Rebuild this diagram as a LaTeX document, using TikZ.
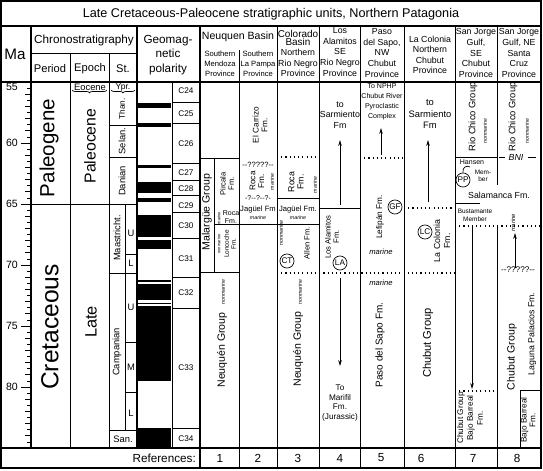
\documentclass[tikz,border=0pt]{standalone}
\usepackage{fontspec}
\setmainfont{Liberation Sans}
\usetikzlibrary{decorations.pathreplacing,arrows.meta}

\begin{document}
\begin{tikzpicture}[x=0.03cm,y=-0.03cm,
    frame/.style={line width=1.5pt},
    rule/.style={line width=0.6pt},
    dots/.style={line width=1pt,dash pattern=on 1pt off 2.6pt},
    arr/.style={line width=0.7pt,-{Stealth[length=5pt,width=3pt]}},
    hd/.style={inner sep=0pt,align=center,font=\fontsize{7.5}{9}\selectfont},
    fm/.style={inner sep=0pt,align=center,rotate=90,font=\fontsize{6.5}{7}\selectfont},
    grp/.style={inner sep=0pt,rotate=90,font=\fontsize{8}{8.5}\selectfont},
    env/.style={inner sep=0pt,rotate=90,font=\fontsize{4.5}{5}\selectfont\itshape},
    ring/.style={draw,circle,line width=0.6pt,inner sep=0pt,minimum size=12pt,font=\fontsize{7}{7}\selectfont},
    stage/.style={inner sep=0pt,rotate=90,font=\fontsize{8}{8}\selectfont},
    chron/.style={inner sep=0pt,font=\fontsize{7}{7}\selectfont},
    plain/.style={inner sep=0pt,align=center,font=\fontsize{#1}{#1}\selectfont}]

\useasboundingbox (0,0) rectangle (543,470);

% frame, title and header rows
\draw[frame] (1,1) rectangle (541,468);
\draw[frame] (1,26) -- (541,26);
\draw[frame] (1,82) -- (541,82);
\draw[frame] (1,448) -- (541,448);
\node[plain=10.8] (title) at (271,14) {Late Cretaceous-Paleocene stratigraphic units, Northern Patagonia};

% column rules
\draw[frame] (31,26) -- (31,448);                        % Ma axis
\draw[rule] (31,53) -- (137,53);
\draw[rule] (70,53) -- (70,448);
\draw[rule] (109,53) -- (109,448);
\draw[line width=0.9pt] (137,26) -- (137,448);
\draw[rule] (172,82) -- (172,448);
\draw[frame] (200,26) -- (200,468);
\draw[rule] (239,50) -- (239,468);
\foreach \x in {277,319,360,404,455}{
        \draw[rule] (\x,26) -- (\x,468);
    }
\draw[rule] (497,26) -- (497,185) (497,227) -- (497,468); % gap for Salamanca Fm.

% header texts
\node[plain=13] (ma) at (15,54) {Ma};
\node[plain=10] (chrono) at (84,40) {Chronostratigraphy};
\node[plain=9.5] (period) at (50,69) {Period};
\node[plain=9.5] (epoch) at (90,69) {Epoch};
\node[plain=9.5] (stage) at (123,69) {St.};
\node[plain=10,font=\fontsize{10}{12.4}\selectfont] (geomag) at (168,55) {Geomag-\\netic\\polarity};
\node[plain=9] (neuquen) at (238,37) {Neuquen Basin};
\node[hd,font=\fontsize{6.5}{8.5}\selectfont] (hmendoza) at (220,64) {Southern\\Mendoza\\Province};
\node[hd,font=\fontsize{6.5}{8.5}\selectfont] (hpampa) at (258,64) {Southern\\La Pampa\\Province};
\node[hd,font=\fontsize{8.5}{7.5}\selectfont] (colorado) at (298,38) {Colorado\\Basin};
\node[hd] (hrionegro) at (298,63) {Northern\\Rio Negro\\Province};
\node[hd] (halamitos) at (340,52) {Los\\Alamitos\\SE\\Rio Negro\\Province};
\node[hd] (hsapo) at (382,53) {Paso\\del Sapo,\\NW\\Chubut\\Province};
\node[hd] (hcolonia) at (430,55) {La Colonia\\Northern\\Chubut\\Province};
\node[hd] (hsejorge) at (476,53) {San Jorge\\Gulf,\\SE\\Chubut\\Province};
\node[hd] (hnejorge) at (519,53) {San Jorge\\Gulf, NE\\Santa\\Cruz\\Province};

% Ma scale
\foreach \m in {55.5,56.5,...,84.5}{
        \draw[rule] (27,{82+12.2*(\m-55)}) -- (31,{82+12.2*(\m-55)});
    }
\foreach \m in {56,...,84}{
        \draw[rule] (25,{82+12.2*(\m-55)}) -- (31,{82+12.2*(\m-55)});
    }
\foreach \m in {60,65,...,80}{
        \draw[rule] (21,{82+12.2*(\m-55)}) -- (31,{82+12.2*(\m-55)});
        \node[plain=9] (ma\m) at (12,{82+12.2*(\m-55)}) {\m};
    }
\node[plain=9] (ma55) at (12,87) {55};

% period, epoch, stage
\draw[rule] (31,204) -- (137,204);                      % K/Pg
\node[stage,font=\fontsize{17.5}{17.5}\selectfont] (paleogene) at (49,148) {Paleogene};
\node[stage,font=\fontsize{21}{21}\selectfont] (cretaceous) at (50,327) {Cretaceous};
\node[plain=8] (eocene) at (90,87) {Eocene};
\draw[rule,decorate,decoration={brace,mirror,amplitude=2.5pt}] (72,90) -- (107,90);
\node[stage,font=\fontsize{13.5}{13.5}\selectfont] (paleocene) at (90,146) {Paleocene};
\node[stage,font=\fontsize{14}{14}\selectfont] (late) at (91,322) {Late};
\node[plain=7.3] (ypr) at (123,87) {Ypr.};
\draw[rule,decorate,decoration={brace,mirror,amplitude=2.5pt}] (111,90) -- (135,90);
\foreach \y in {125,157,273,430}{
        \draw[rule] (109,\y) -- (137,\y);
    }
\draw[rule] (125,204) -- (125,430);
\foreach \y in {254,342,392}{
        \draw[rule] (125,\y) -- (137,\y);
    }
\node[stage,font=\fontsize{7}{7}\selectfont] (than) at (122,109) {Than.};
\node[stage] (selan) at (122,141) {Selan.};
\node[stage] (danian) at (122,181) {Danian};
\node[stage] (maastricht) at (117,238) {Maastricht.};
\node[stage] (campanian) at (117,352) {Campanian};
\node[plain=8] (maasu) at (131,233) {U};
\node[plain=8] (maasl) at (131,263) {L};
\node[plain=8] (campu) at (131,307) {U};
\node[plain=8] (campm) at (131,367) {M};
\node[plain=8] (campl) at (131,413) {L};
\node[plain=8] (san) at (123,439) {San.};

% geomagnetic polarity
\foreach \a/\b in {103/108,123/127,165/168,182/193,198/202,215/237,240/249,280/282,283.5/300,302.5/304,306/381,428/448}{
        \fill (138,\a) rectangle (171,\b);
    }
\foreach \y in {102,123,163,180,195,212,238,277,308,428}{
        \draw[rule] (172,\y) -- (200,\y);
    }
\foreach \c/\y in {24/91,25/114,26/144,27/173,28/189,29/206,30/226,31/259,32/293,33/368,34/439}{
        \node[chron] (c\c) at (186,\y) {C\c};
    }

% 1: southern Mendoza
\draw[rule] (200,158) -- (239,158);
\draw[rule] (214,158) -- (214,272);
\draw[rule] (200,272) -- (239,272);
\draw[rule] (214,224) -- (319,224);                     % base of Jaguel / Roca
\node[grp,font=\fontsize{9}{9}\selectfont] (malargue) at (207,212) {Malargüe Group};
\node[fm,font=\fontsize{6.5}{7}\selectfont] (pircala) at (227,184) {Pircala\\Fm.};
\node[env,font=\fontsize{3.5}{4}\selectfont\itshape] (mar1) at (219,218) {marine};
\node[plain=6,font=\fontsize{6}{6.5}\selectfont] (roca1) at (231,217) {Roca\\Fm.};
\node[env,font=\fontsize{3.5}{4}\selectfont\itshape] (nonmar1) at (219,244) {nonmarine};
\node[fm,font=\fontsize{5.5}{6}\selectfont] (loncoche) at (230,244) {Loncoche\\Fm.};
\node[env] (nonmar1b) at (223,292) {nonmarine};
\node[grp,font=\fontsize{9}{9}\selectfont] (neuquen1) at (222,350) {Neuquén Group};

% 2: southern La Pampa
\node[fm,font=\fontsize{7}{7.5}\selectfont] (carrizo) at (260,125) {El Carrizo\\Fm.};
\node[plain=6.5] (query2) at (258,165) {-{}-?????-{}-};
\node[fm,font=\fontsize{7}{7.5}\selectfont] (roca2) at (257,181) {Roca\\Fm.};
\node[env] (mar2) at (272,182) {marine};
\node[plain=6] (query2b) at (258,198) {-?-{}-?-{}-?-};
\node[plain=6.5] (jaguel2) at (258,210) {Jagüel Fm};
\node[env,rotate=-90] (mar2b) at (258,218) {marine};

% 3: northern Rio Negro
\draw[dots] (277,157) -- (319,157);
\draw[rule] (277,198) -- (319,198);
\draw[dots] (277,273) -- (455,273);
\node[fm,font=\fontsize{7.5}{8}\selectfont] (roca3) at (296,182) {Roca\\Fm.};
\node[env] (mar3) at (315,185) {marine};
\node[plain=6.5] (jaguel3) at (298,210) {Jagüel Fm.};
\node[env,rotate=-90] (mar3b) at (298,218) {marine};
\node[env] (nonmar3) at (281,233) {nonmarine};
\node[ring] (ct) at (287,261) {CT};
\node[fm,font=\fontsize{6.5}{7}\selectfont] (allen) at (307,243) {Allen Fm.};
\node[env] (nonmar3b) at (300,292) {nonmarine};
\node[grp,font=\fontsize{9}{9}\selectfont] (neuquen3) at (298,349) {Neuquén Group};

% 4: SE Rio Negro
\node[hd] (sarm4) at (340,115) {to\\Sarmiento\\Fm};
\coordinate (up4) at (340,205);
\coordinate (tip4) at (340,140);
\draw[arr] (up4) -- (tip4);
\draw[rule] (319,208) -- (360,208);
\node[fm,font=\fontsize{6.5}{7}\selectfont] (alamitos) at (332,237) {Los Alamitos\\Fm.};
\node[ring] (la) at (340,263) {LA};
\coordinate (down4) at (340,278);
\coordinate (base4) at (340,366);
\draw[arr] (down4) -- (base4);
\node[hd,font=\fontsize{7}{8.5}\selectfont] (marifil) at (340,403) {To\\Marifil\\Fm.\\(Jurassic)};

% 5: Paso del Sapo
\node[hd,font=\fontsize{6}{8.5}\selectfont] (nphp) at (382,102) {To NPHP\\Chubut River\\Pyroclastic\\Complex};
\coordinate (up5) at (381,155);
\coordinate (tip5) at (381,128);
\draw[arr] (up5) -- (tip5);
\draw[dots] (360,158) -- (404,158);
\node[fm,font=\fontsize{7}{7}\selectfont] (lefipan) at (380,217) {Lefipán Fm.};
\node[ring] (gf) at (395,207) {GF};
\node[plain=6.5,font=\fontsize{6.5}{6.5}\selectfont\itshape] (mar5) at (381,252) {marine};
\node[plain=6.5,font=\fontsize{6.5}{6.5}\selectfont\itshape] (mar5b) at (381,283) {marine};
\node[fm,font=\fontsize{8.5}{8.5}\selectfont] (sapo) at (380,345) {Paso del Sapo Fm.};

% 6: La Colonia
\node[hd,font=\fontsize{8}{9.5}\selectfont] (sarm6) at (430,114) {to\\Sarmiento\\Fm};
\coordinate (up6) at (428,202);
\coordinate (tip6) at (428,140);
\draw[arr] (up6) -- (tip6);
\draw[dots] (404,208) -- (455,208);
\node[ring] (lc) at (425,232) {LC};
\node[fm,font=\fontsize{7.5}{8.5}\selectfont] (colonia) at (442,241) {La Colonia\\Fm.};
\node[grp,font=\fontsize{9.5}{9.5}\selectfont] (chubut6) at (428,343) {Chubut Group};

% 7: San Jorge Gulf, SE Chubut
\node[grp] (riochico7) at (473,117) {Rio Chico Group};
\node[env] (nonmar7) at (485,131) {nonmarine};
\draw[rule] (455,157) -- (497,157);
\node[plain=6] (hansen) at (472,162) {Hansen};
\node[ring] (pp) at (463,180) {PP};
\draw[rule] (pp.north) .. controls (462,167) and (467,165) .. (470,167);
\node[hd,font=\fontsize{5.5}{6.5}\selectfont] (member) at (483,176) {Mem-\\ber};
\node[plain=7.5] (salamanca) at (499,195) {Salamanca Fm.};
\draw[rule] (455,203) -- (480,203);
\node[hd,font=\fontsize{5.5}{7}\selectfont] (bustamante) at (475,215) {Bustamante\\Member};
\draw[dots] (455,226) -- (540,226);
\coordinate (top7) at (472,226);
\coordinate (base7) at (472,389);
\draw[arr] (top7) -- (base7);
\draw[dots] (455,391) -- (497,391);
\node[fm,font=\fontsize{7}{8.5}\selectfont] (barreal7) at (470,418) {Chubut Group\\Bajo Barreal\\Fm.};

% 8: San Jorge Gulf, NE Santa Cruz
\node[grp] (riochico8) at (513,117) {Rio Chico Group};
\node[env] (nonmar8) at (527,131) {nonmarine};
\node[plain=7.5,font=\fontsize{7.5}{7.5}\selectfont\itshape] (bni) at (516,157) {BNI};
\draw[rule] (499,157) -- (505,157) (528,157) -- (536,157);
\node[env,font=\fontsize{5}{5}\selectfont\itshape] (mar8) at (513,223) {marine};
\coordinate (up8) at (515,268);
\coordinate (tip8) at (515,233);
\draw[arr] (up8) -- (tip8);
\node[plain=7] (query8) at (518,270) {-{}-?????-{}-};
\node[grp,font=\fontsize{9}{9}\selectfont] (chubut8) at (512,357) {Chubut Group};
\node[fm,font=\fontsize{7.5}{7.5}\selectfont] (laguna) at (532,334) {Laguna Palacios Fm.};
\draw[rule] (520,390) -- (540,390) (520,390) -- (520,448);
\node[fm,font=\fontsize{7}{7.5}\selectfont] (barreal8) at (528,420) {Bajo Barreal\\Fm.};

% references row
\node[plain=10,anchor=east] (refs) at (196,458) {References:};
\foreach \n/\x in {1/220,2/258,3/298,4/340,5/381,6/421,7/473,8/517}{
        \node[plain=10] (ref\n) at (\x,458) {\n};
    }
\end{tikzpicture}
\end{document}
